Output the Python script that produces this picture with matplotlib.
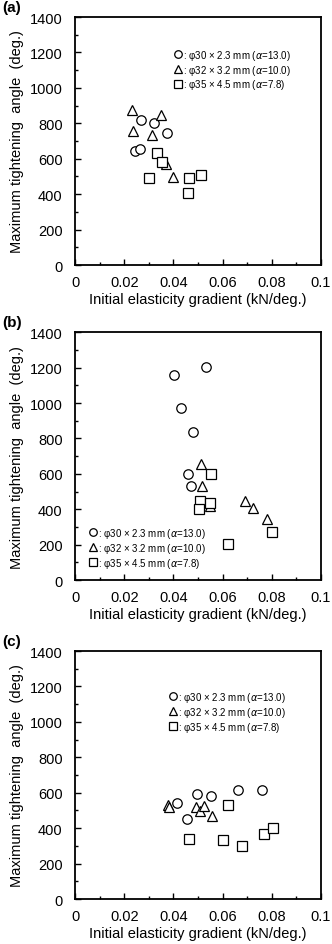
import matplotlib.pyplot as plt
from matplotlib.ticker import MultipleLocator

plt.rcParams['font.family'] = ['Liberation Sans', 'DejaVu Sans']

# panel (a)
a_circ_x = [0.0267, 0.0320, 0.0373, 0.0244, 0.0264]
a_circ_y = [821, 800, 745, 642, 655]
a_tri_x = [0.0233, 0.0236, 0.0351, 0.0311, 0.0369, 0.0397]
a_tri_y = [875, 758, 845, 734, 570, 498]
a_sq_x = [0.0332, 0.0355, 0.0299, 0.0465, 0.0511, 0.0460]
a_sq_y = [630, 579, 490, 494, 506, 406]

# panel (b)
b_circ_x = [0.0403, 0.0531, 0.0429, 0.0478, 0.0461, 0.0473]
b_circ_y = [1159, 1203, 973, 837, 600, 534]
b_tri_x = [0.0512, 0.0516, 0.0547, 0.0690, 0.0724, 0.0780]
b_tri_y = [655, 534, 417, 449, 405, 347]
b_sq_x = [0.0552, 0.0508, 0.0505, 0.0547, 0.0623, 0.0800]
b_sq_y = [602, 447, 401, 436, 206, 273]

# panel (c)
c_circ_x = [0.0413, 0.0495, 0.0552, 0.0664, 0.0761, 0.0454]
c_circ_y = [541, 592, 582, 618, 618, 450]
c_tri_x = [0.0379, 0.0383, 0.0493, 0.0508, 0.0524, 0.0556]
c_tri_y = [530, 518, 522, 497, 526, 471]
c_sq_x = [0.0464, 0.0603, 0.0680, 0.0622, 0.0767, 0.0803]
c_sq_y = [337, 333, 301, 529, 367, 401]

labels = [': φ30 × 2.3 mm ($\\it{α}$=13.0)',
          ': φ32 × 3.2 mm ($\\it{α}$=10.0)',
          ': φ35 × 4.5 mm ($\\it{α}$=7.8)']

panels = [
    ('(a)', a_circ_x, a_circ_y, a_tri_x, a_tri_y, a_sq_x, a_sq_y, 0.7185, (0.403, 0.877)),
    ('(b)', b_circ_x, b_circ_y, b_tri_x, b_tri_y, b_sq_x, b_sq_y, 0.385, (0.059, 0.219)),
    ('(c)', c_circ_x, c_circ_y, c_tri_x, c_tri_y, c_sq_x, c_sq_y, 0.0476, (0.383, 0.844)),
]

fig = plt.figure(figsize=(3.32, 9.45), dpi=100)

for name, cx, cy, tx, ty, sx, sy, bottom, leg_pos in panels:
    ax = fig.add_axes([0.226, bottom, 0.741, 0.2624])
    mk = dict(linestyle='none', markerfacecolor='white', markeredgecolor='black',
              markeredgewidth=0.9)
    ax.plot(cx, cy, marker='o', markersize=6.8, label=labels[0], **mk)
    ax.plot(tx, ty, marker='^', markersize=7.5, label=labels[1], **mk)
    ax.plot(sx, sy, marker='s', markersize=7.2, label=labels[2], **mk)
    ax.set_xlim(0, 0.1)
    ax.set_ylim(0, 1400)
    ax.xaxis.set_minor_locator(MultipleLocator(0.01))
    ax.yaxis.set_major_locator(MultipleLocator(200))
    ax.yaxis.set_minor_locator(MultipleLocator(100))
    ax.set_xticks([0, 0.02, 0.04, 0.06, 0.08, 0.1])
    ax.set_xticklabels(['0', '0.02', '0.04', '0.06', '0.08', '0.1'])
    ax.tick_params(which='both', direction='in', labelsize=10.5)
    ax.tick_params(which='major', length=4, width=1)
    ax.tick_params(axis='y', which='major', pad=9)
    ax.tick_params(axis='x', which='major', pad=7)
    ax.tick_params(which='minor', length=2.5, width=1)
    for sp in ax.spines.values():
        sp.set_linewidth(1.3)
    ax.set_xlabel('Initial elasticity gradient (kN/deg.)', fontsize=10.5, labelpad=2)
    ax.set_ylabel('Maximum tightening  angle  (deg.)', fontsize=10.5, labelpad=4)
    ax.legend(loc='upper left', bbox_to_anchor=leg_pos, frameon=False, fontsize=7.0,
              handlelength=0.75, handletextpad=0.15, labelspacing=0.1, markerscale=0.8,
              borderaxespad=0, borderpad=0)
    fig.text(0.006, bottom + 0.2624 + 0.003, name, fontsize=11, fontweight='bold',
             va='bottom', ha='left')

fig.savefig('out.png', dpi=100)
